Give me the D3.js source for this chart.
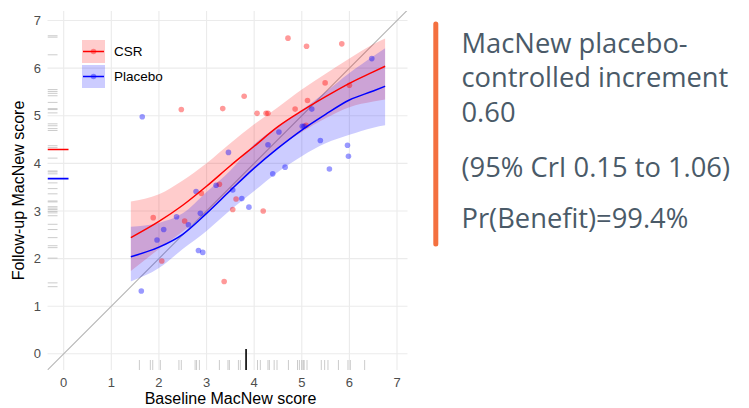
<!DOCTYPE html>
<html>
<head>
<meta charset="utf-8">
<script src="https://cdn.jsdelivr.net/npm/d3@7"></script>
<style>
  body { margin: 0; background: #fff; }
  svg { display: block; }
  .tick-label { font-family: "Liberation Sans", Arial, sans-serif; font-size: 13px; fill: #4d4d4d; }
  .axis-title { font-family: "Liberation Sans", Arial, sans-serif; font-size: 16px; fill: #000; }
  .legend-label { font-family: "Liberation Sans", Arial, sans-serif; font-size: 13.5px; fill: #000; }
  .summary { font-family: "Open Sans", Lato, sans-serif; font-size: 26px; font-weight: 500; fill: #4a5a68; }
</style>
</head>
<body>
<svg id="chart" width="749" height="408"></svg>
<script>
// --- data ---
var groups = ["CSR", "Placebo"];
var groupColors = { CSR: "#ff0000", Placebo: "#0000ff" };

// observed patients: [baseline, follow-up]
var pointsCSR = [
  [4.71, 6.63], [5.10, 6.46], [5.84, 6.51], [5.49, 5.69], [6.00, 5.64], [3.79, 5.41],
  [5.12, 5.32], [4.86, 5.14], [4.06, 5.05], [4.25, 5.05], [4.29, 5.05], [5.09, 4.80],
  [2.47, 5.13], [3.34, 5.15], [3.27, 3.56], [2.89, 3.37], [3.62, 3.25], [3.55, 3.03],
  [4.19, 3.00], [1.88, 2.86], [2.54, 2.79], [2.06, 1.95], [3.37, 1.52]
];
var pointsPlacebo = [
  [6.47, 6.20], [5.21, 5.14], [5.01, 4.78], [5.05, 4.78], [4.52, 4.66], [4.29, 4.39],
  [5.39, 4.48], [5.96, 4.38], [5.98, 4.15], [4.65, 3.92], [4.39, 3.78], [5.58, 3.88],
  [3.46, 4.23], [3.20, 3.54], [2.78, 3.41], [3.55, 3.44], [3.74, 3.26], [3.89, 3.08],
  [2.37, 2.88], [2.62, 2.71], [2.10, 2.61], [1.96, 2.39], [2.83, 2.17], [2.92, 2.13],
  [1.63, 1.32], [1.65, 4.98], [2.87, 2.95]
];

// model fit: baseline grid, predicted mean, 95% band
var fitX         = [1.41, 2.0,  2.5,  3.0,  3.5,  4.0,  4.5,  5.0,  5.5,  6.0,  6.5,  6.75];
var fitCSR       = [2.44, 2.78, 3.12, 3.52, 3.95, 4.36, 4.77, 5.10, 5.40, 5.68, 5.92, 6.04];
var fitCSRLow    = [1.74, 2.20, 2.57, 2.97, 3.42, 3.92, 4.33, 4.66, 4.95, 5.18, 5.30, 5.34];
var fitCSRHigh   = [3.20, 3.35, 3.64, 4.00, 4.42, 4.82, 5.18, 5.55, 5.88, 6.20, 6.50, 6.62];
var fitPla       = [2.04, 2.24, 2.51, 2.95, 3.43, 3.90, 4.32, 4.70, 5.03, 5.33, 5.52, 5.62];
var fitPlaLow    = [1.52, 1.80, 2.20, 2.58, 3.02, 3.42, 3.82, 4.15, 4.42, 4.60, 4.75, 4.80];
var fitPlaHigh   = [2.67, 2.75, 2.95, 3.40, 3.85, 4.40, 4.78, 5.12, 5.50, 5.90, 6.25, 6.42];

// marginal rugs
var rugBaseline = [1.59, 1.82, 1.87, 2.03, 2.42, 2.47, 2.76, 2.79, 2.85, 3.27, 3.45, 3.48,
  3.67, 3.71, 4.07, 4.13, 4.29, 4.32, 4.42, 4.48, 4.72, 4.91, 4.95, 5.00, 5.03, 5.05,
  5.11, 5.41, 5.48, 5.55, 5.77, 5.97, 6.02, 6.32];
var rugFollowUp = [6.68, 6.65, 6.28, 5.55, 5.51, 5.47, 5.42, 5.28, 5.15, 5.13, 5.06, 4.83,
  4.79, 4.73, 4.69, 4.37, 4.33, 4.11, 3.84, 3.82, 3.78, 3.59, 3.47, 3.36, 3.21, 3.19,
  3.09, 3.06, 3.03, 2.99, 2.96, 2.90, 2.72, 2.61, 2.44, 2.27, 2.23, 2.01, 1.49, 1.41];
var meanBaseline = 3.83;
var meanFollowUp = { CSR: 4.29, Placebo: 3.68 };

var xTicks = [0, 1, 2, 3, 4, 5, 6, 7];
var yTicks = [0, 1, 2, 3, 4, 5, 6, 7];

var summaryLines = ["MacNew placebo-", "controlled increment", "0.60", "(95% CrI 0.15 to 1.06)", "Pr(Benefit)=99.4%"];

// --- layout ---
var panel = { left: 47.5, right: 407.5, top: 11, bottom: 370 };

var svg = d3.select("#chart");

var x = d3.scaleLinear().domain([-0.34, 7.22]).range([panel.left, panel.right]);
var y = d3.scaleLinear().domain([-0.34, 7.2]).range([panel.bottom, panel.top]);

svg.append("defs").append("clipPath").attr("id", "panel-clip")
  .append("rect")
  .attr("x", panel.left).attr("y", panel.top)
  .attr("width", panel.right - panel.left).attr("height", panel.bottom - panel.top);

// grid
svg.append("g").selectAll("line").data(xTicks).join("line")
  .attr("x1", d => x(d)).attr("x2", d => x(d))
  .attr("y1", panel.top).attr("y2", panel.bottom)
  .style("stroke", "#ebebeb").style("stroke-width", 1.1);
svg.append("g").selectAll("line").data(yTicks).join("line")
  .attr("x1", panel.left).attr("x2", panel.right)
  .attr("y1", d => y(d)).attr("y2", d => y(d))
  .style("stroke", "#ebebeb").style("stroke-width", 1.1);

// tick labels
svg.append("g").selectAll("text").data(xTicks).join("text")
  .attr("class", "tick-label")
  .attr("x", d => x(d)).attr("y", 387)
  .attr("text-anchor", "middle")
  .text(d => d);
svg.append("g").selectAll("text").data(yTicks).join("text")
  .attr("class", "tick-label")
  .attr("x", 41).attr("y", d => y(d)).attr("dy", "0.36em")
  .attr("text-anchor", "end")
  .text(d => d);

// axis titles
svg.append("text").attr("class", "axis-title")
  .attr("x", 230.5).attr("y", 404)
  .attr("text-anchor", "middle")
  .text("Baseline MacNew score");
svg.append("text").attr("class", "axis-title")
  .attr("transform", "translate(24," + ((panel.top + panel.bottom) / 2) + ") rotate(-90)")
  .attr("text-anchor", "middle")
  .text("Follow-up MacNew score");

var plot = svg.append("g").attr("clip-path", "url(#panel-clip)");

// identity line
plot.append("line")
  .attr("x1", x(-1)).attr("y1", y(-1))
  .attr("x2", x(8)).attr("y2", y(8))
  .style("stroke", "#b5b5b5").style("stroke-width", 1.1);

// bands
var fits = [
  { group: "CSR", mid: fitCSR, low: fitCSRLow, high: fitCSRHigh },
  { group: "Placebo", mid: fitPla, low: fitPlaLow, high: fitPlaHigh }
];

var band = d3.area()
  .x((d, i) => x(fitX[i]))
  .y0(d => y(d[0]))
  .y1(d => y(d[1]))
  .curve(d3.curveMonotoneX);

var fitLine = d3.line()
  .x((d, i) => x(fitX[i]))
  .y(d => y(d))
  .curve(d3.curveMonotoneX);

plot.append("g").selectAll("path").data(fits).join("path")
  .attr("d", f => band(f.low.map((v, i) => [v, f.high[i]])))
  .style("fill", f => groupColors[f.group])
  .style("opacity", 0.2);

// points
var allPoints = pointsCSR.map(p => ({ group: "CSR", bx: p[0], fy: p[1] }))
  .concat(pointsPlacebo.map(p => ({ group: "Placebo", bx: p[0], fy: p[1] })));

plot.append("g").selectAll("circle").data(allPoints).join("circle")
  .attr("cx", d => x(d.bx)).attr("cy", d => y(d.fy))
  .attr("r", 2.8)
  .style("fill", d => groupColors[d.group])
  .style("opacity", 0.4);

// fitted lines
plot.append("g").selectAll("path").data(fits).join("path")
  .attr("d", f => fitLine(f.mid))
  .style("fill", "none")
  .style("stroke", f => groupColors[f.group])
  .style("stroke-width", 1.5);

// rugs
plot.append("g").selectAll("line").data(rugBaseline).join("line")
  .attr("x1", d => x(d)).attr("x2", d => x(d))
  .attr("y1", panel.bottom).attr("y2", panel.bottom - 10)
  .style("stroke", "#999").style("stroke-opacity", 0.5).style("stroke-width", 1);
plot.append("g").selectAll("line").data(rugFollowUp).join("line")
  .attr("y1", d => y(d)).attr("y2", d => y(d))
  .attr("x1", panel.left).attr("x2", panel.left + 10)
  .style("stroke", "#999").style("stroke-opacity", 0.5).style("stroke-width", 1);

plot.append("line")
  .attr("x1", x(meanBaseline)).attr("x2", x(meanBaseline))
  .attr("y1", panel.bottom).attr("y2", panel.bottom - 21)
  .style("stroke", "#000").style("stroke-width", 1.6);
plot.append("g").selectAll("line").data(groups).join("line")
  .attr("y1", g => y(meanFollowUp[g])).attr("y2", g => y(meanFollowUp[g]))
  .attr("x1", panel.left).attr("x2", panel.left + 21)
  .style("stroke", g => groupColors[g]).style("stroke-width", 1.6);

// legend
var legend = svg.append("g").attr("transform", "translate(82,40)");
var legendItem = legend.selectAll("g").data(groups).join("g")
  .attr("transform", (g, i) => "translate(0," + (i * 25) + ")");
legendItem.append("rect")
  .attr("width", 23).attr("height", 23)
  .style("fill", g => groupColors[g]).style("opacity", 0.2);
legendItem.append("line")
  .attr("x1", 1).attr("x2", 22).attr("y1", 11.5).attr("y2", 11.5)
  .style("stroke", g => groupColors[g]).style("stroke-width", 1.5);
legendItem.append("circle")
  .attr("cx", 11.5).attr("cy", 11.5).attr("r", 2.8)
  .style("fill", g => groupColors[g]).style("opacity", 0.4);
legendItem.append("text")
  .attr("class", "legend-label")
  .attr("x", 32).attr("y", 11.5).attr("dy", "0.36em")
  .text(g => g);

// summary panel
svg.append("line")
  .attr("x1", 435.8).attr("x2", 435.8).attr("y1", 24).attr("y2", 244)
  .style("stroke", "#f4703f").style("stroke-width", 5).style("stroke-linecap", "round");

var summaryY = [53, 87, 122, 177, 228];
var summary = svg.append("g").selectAll("text").data(summaryLines).join("text")
  .attr("class", "summary")
  .attr("x", 461.5).attr("y", (d, i) => summaryY[i])
  .text(d => d);

// fit the widest line to the width it has in the original
var widest = summary.filter((d, i) => i === 1).node().getComputedTextLength();
summary.style("font-size", (26 * 267 / widest) + "px");
</script>
</body>
</html>
